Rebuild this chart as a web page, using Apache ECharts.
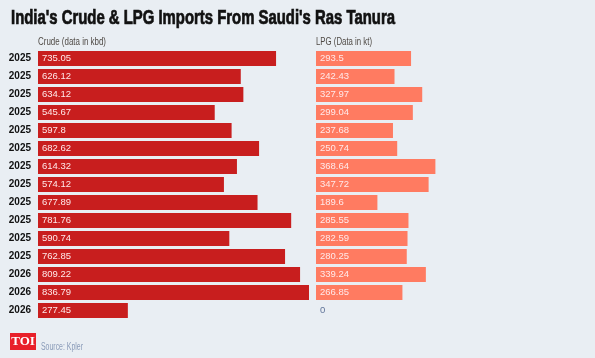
<!DOCTYPE html>
<html><head><meta charset="utf-8">
<script src="https://cdn.jsdelivr.net/npm/echarts@6/dist/echarts.min.js"></script>
<style>html,body{margin:0;padding:0;background:#e9eef3;}#c{width:595px;height:358px;}</style>
</head><body><div id="c"></div>
<script>
const years = ['2025','2025','2025','2025','2025','2025','2025','2025','2025','2025','2025','2025','2026','2026','2026'];
const crude = [735.05,626.12,634.12,545.67,597.8,682.62,614.32,574.12,677.89,781.76,590.74,762.85,809.22,836.79,277.45];
const lpg = [293.5,242.43,327.97,299.04,237.68,250.74,368.64,347.72,189.6,285.55,282.59,280.25,339.24,266.85,0];
const titleText = "India's Crude & LPG Imports From Saudi's Ras Tanura";
const crudeHeader = 'Crude (data in kbd)';
const lpgHeader = 'LPG (Data in kt)';
const sourceText = 'Source: Kpler';

const FONT = "'Liberation Sans',Arial,sans-serif";
const ctx = document.createElement('canvas').getContext('2d');
function fitScale(text, font, target){ ctx.font = font; return target / ctx.measureText(text).width; }
const titleScale = fitScale(titleText, "bold 19.5px 'Liberation Sans'", 384);
const crudeHScale = fitScale(crudeHeader, "10px 'Liberation Sans'", 68);
const lpgHScale = fitScale(lpgHeader, "10px 'Liberation Sans'", 56);
const srcScale = fitScale(sourceText, "10px 'Liberation Sans'", 42);

const pxPerUnit = 271 / 836.79;
const crudeMax = Math.max(...crude), lpgMax = Math.max(...lpg);
const chart = echarts.init(document.getElementById('c'), null, {renderer:'canvas'});
const labelStyle = {show:true, position:'insideLeft', distance:4, color:'#ffe9ea', fontSize:9.5, fontFamily:FONT,
  formatter: p => String(p.value)};
chart.setOption({
  backgroundColor:'#e9eef3',
  animation:false,
  grid:[
    {left:38, top:49.5, width:crudeMax*pxPerUnit, height:270},
    {left:316, top:49.5, width:lpgMax*pxPerUnit, height:270}
  ],
  xAxis:[
    {gridIndex:0, type:'value', min:0, max:crudeMax, show:false},
    {gridIndex:1, type:'value', min:0, max:lpgMax, show:false}
  ],
  yAxis:[
    {gridIndex:0, type:'category', data:years, inverse:true, axisLine:{show:false}, axisTick:{show:false},
     axisLabel:{margin:7, fontFamily:FONT, fontWeight:'bold', fontSize:10, color:'#111'}},
    {gridIndex:1, type:'category', data:years, inverse:true, show:false}
  ],
  series:[
    {type:'bar', xAxisIndex:0, yAxisIndex:0, data:crude, barWidth:15, itemStyle:{color:'#c81e1e'}, label:labelStyle},
    {type:'bar', xAxisIndex:1, yAxisIndex:1, barWidth:15, itemStyle:{color:'#ff7b61'},
     data: lpg.map(v => v === 0 ? {value:v, label:{color:'#5f7398'}} : v), label:labelStyle}
  ],
  graphic:[
    {type:'text', x:11, y:19, scaleX:titleScale, style:{text:titleText, font:"bold 19.5px 'Liberation Sans'", fill:'#111', stroke:'#111', lineWidth:0.7, textVerticalAlign:'middle'}},
    {type:'text', x:38, y:42, scaleX:crudeHScale, style:{text:crudeHeader, font:"10px 'Liberation Sans'", fill:'#4f4a45', textVerticalAlign:'middle'}},
    {type:'text', x:316, y:42, scaleX:lpgHScale, style:{text:lpgHeader, font:"10px 'Liberation Sans'", fill:'#4f4a45', textVerticalAlign:'middle'}},
    {type:'rect', shape:{x:10, y:333, width:26, height:17}, style:{fill:'#e8202a'}},
    {type:'text', x:23, y:342, style:{text:'TOI', font:"bold 13px 'Liberation Serif'", fill:'#fff', textAlign:'center', textVerticalAlign:'middle'}},
    {type:'text', x:41, y:347, scaleX:srcScale, style:{text:sourceText, font:"10px 'Liberation Sans'", fill:'#8a9bb8', textVerticalAlign:'middle'}}
  ]
});
</script></body></html>
